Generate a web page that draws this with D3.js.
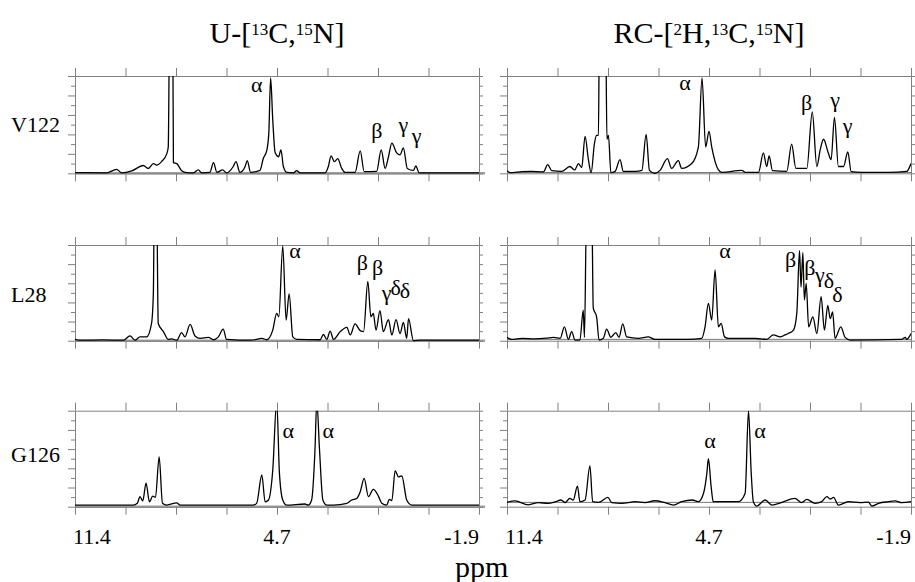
<!DOCTYPE html>
<html>
<head>
<meta charset="utf-8">
<title>Spectra</title>
<script src="https://d3js.org/d3.v7.min.js"></script>
<style>
  body { margin:0; background:#fff; }
  text { font-family:"Liberation Serif","Times New Roman",serif; fill:#000; }
  .axis path, .axis line { stroke:#808080; stroke-width:1; }
  .spec { fill:none; stroke:#000; stroke-width:1.3; }
</style>
</head>
<body>
<script>
// column titles and row names
var titles = [
  [["U-[", ""], ["13", "sup"], ["C,", ""], ["15", "sup"], ["N]", ""]],
  [["RC-[", ""], ["2", "sup"], ["H,", ""], ["13", "sup"], ["C,", ""], ["15", "sup"], ["N]", ""]]
];
var residues = ["V122", "L28", "G126"];
var xTickLabels = ["11.4", "4.7", "-1.9"];
var ppmDomain = [11.4, -1.9];

// spectra: [ppm, intensity] (0..10 = panel height)
var v122U = [[11.4,0.07],[10.36,0.05],[10.03,0.4],[9.86,0.05],[9.53,0.25],[9.15,0.8],[8.99,0.5],[8.82,1.0],[8.71,0.85],[8.55,1.2],[8.38,2.0],[8.33,2.7],[8.29,14],[8.24,16],[8.18,14],[8.16,1.1],[8.05,1.0],[7.89,0.27],[7.72,0.07],[7.5,0.05],[7.34,0.35],[7.23,0.05],[6.96,0.1],[6.84,1.1],[6.73,0.1],[6.54,0.35],[6.41,0.05],[6.19,0.7],[6.10,1.2],[5.97,0.1],[5.80,0.7],[5.73,1.3],[5.62,0.1],[5.31,0.3],[5.20,1.55],[5.09,2.3],[5.02,4.1],[4.96,9.8],[4.89,5.5],[4.81,2.1],[4.70,1.7],[4.62,2.4],[4.54,0.7],[4.43,0.1],[4.21,0.05],[4.10,0.27],[3.99,0.05],[3.17,0.05],[3.06,0.7],[2.97,1.8],[2.86,1.2],[2.75,1.5],[2.62,0.5],[2.51,0.1],[2.18,0.1],[2.01,2.3],[1.88,0.17],[1.47,0.2],[1.32,2.4],[1.19,0.5],[1.08,1.7],[0.97,3.1],[0.81,2.1],[0.70,1.9],[0.59,2.6],[0.46,0.5],[0.26,0.3],[0.18,0.75],[0.07,0.05],[-0.40,0.05],[-1.9,0.05]];
var v122RC = [[11.4,0.27],[11.3,0.07],[10.9,0.17],[10.6,0.2],[10.2,0.15],[10.06,0.9],[9.93,0.27],[9.6,0.2],[9.33,0.7],[9.17,0.35],[9.05,1.0],[8.94,0.6],[8.83,3.8],[8.72,1.4],[8.63,0.07],[8.52,3.1],[8.45,3.9],[8.39,3.9],[8.36,14],[8.25,12],[8.15,14],[8.11,3.5],[8.06,3.9],[7.98,0.07],[7.84,0.2],[7.68,1.4],[7.57,0.2],[7.18,0.2],[6.96,0.3],[6.82,4.0],[6.71,0.3],[6.53,0.0],[6.36,0.3],[6.12,1.5],[5.98,0.5],[5.76,1.3],[5.65,0.5],[5.32,1.0],[5.10,2.7],[4.98,9.8],[4.86,2.7],[4.75,4.3],[4.66,2.7],[4.44,0.35],[4.33,0.1],[3.67,0.3],[3.56,0.1],[3.12,0.1],[2.96,2.1],[2.85,0.7],[2.77,1.8],[2.66,0.27],[2.19,0.2],[2.03,3.0],[1.89,0.5],[1.53,0.5],[1.35,6.3],[1.20,0.7],[1.09,2.4],[0.98,3.5],[0.82,2.05],[0.73,1.4],[0.62,5.75],[0.49,0.7],[0.32,0.7],[0.18,2.2],[0.07,0.17],[-0.28,0.1],[-1.16,0.1],[-1.76,0.2],[-1.9,1.0]];
var l28U = [[11.4,0.14],[11.2,0.05],[10.5,0.08],[9.8,0.05],[9.59,0.5],[9.42,0.05],[9.26,0.4],[9.04,0.4],[8.88,1.8],[8.82,5.0],[8.79,14],[8.71,14],[8.66,1.8],[8.49,0.95],[8.33,0.14],[8.22,0.2],[8.05,0.05],[7.89,0.85],[7.78,0.4],[7.61,1.7],[7.45,0.5],[7.28,0.25],[7.01,0.35],[6.84,0.1],[6.68,0.4],[6.52,1.2],[6.41,0.14],[5.6,0.05],[5.25,0.25],[5.09,0.1],[4.89,1.1],[4.76,2.85],[4.69,2.5],[4.56,9.9],[4.45,2.15],[4.35,4.9],[4.23,0.4],[4.10,0.14],[3.33,0.1],[3.22,0.65],[3.11,0.14],[3.0,1.0],[2.89,0.14],[2.67,0.95],[2.45,1.4],[2.34,0.6],[2.18,1.75],[2.01,1.05],[1.90,0.95],[1.76,6.2],[1.66,2.5],[1.58,2.85],[1.49,1.1],[1.36,3.15],[1.25,0.95],[1.08,2.2],[0.97,0.6],[0.83,2.2],[0.70,0.75],[0.59,1.9],[0.48,0.25],[0.42,2.3],[0.26,0.0],[0.04,0.05],[-1.9,0.05]];
var l28RC = [[11.4,0.35],[11.25,0.14],[10.9,0.25],[10.5,0.2],[10.1,0.27],[9.87,0.35],[9.65,0.25],[9.51,1.45],[9.38,0.14],[9.27,0.95],[9.16,0.07],[9.0,0.07],[8.89,3.2],[8.85,0.35],[8.78,14],[8.67,14],[8.61,14],[8.56,3.4],[8.45,2.5],[8.37,0.07],[8.23,0.25],[8.12,1.2],[7.98,0.35],[7.82,0.85],[7.71,0.35],[7.59,1.75],[7.46,0.4],[7.07,0.25],[6.75,0.4],[6.53,0.14],[5.43,0.14],[4.99,0.25],[4.88,1.45],[4.77,3.9],[4.66,2.15],[4.55,7.4],[4.44,1.45],[4.35,1.8],[4.24,0.4],[4.11,0.25],[3.23,0.25],[2.85,0.14],[2.63,0.6],[2.41,0.4],[2.25,0.6],[2.14,0.75],[1.97,1.1],[1.86,2.85],[1.77,9.4],[1.72,5.6],[1.66,9.2],[1.61,4.25],[1.55,6.0],[1.47,1.45],[1.33,2.5],[1.20,0.75],[1.06,4.6],[0.95,1.1],[0.84,3.7],[0.76,2.3],[0.68,3.0],[0.60,0.25],[0.41,1.45],[0.27,0.35],[0.10,0.07],[-1.6,0.14],[-1.71,0.35],[-1.76,0.14],[-1.9,0.75]];
var g126U = [[11.4,0.17],[9.48,0.17],[9.35,0.35],[9.26,1.05],[9.17,0.6],[9.06,2.45],[8.95,0.5],[8.84,1.1],[8.75,0.97],[8.63,5.2],[8.52,0.35],[8.38,0.17],[8.05,0.4],[7.94,0.17],[5.53,0.17],[5.42,0.35],[5.25,3.3],[5.14,0.5],[5.03,0.7],[4.89,3.8],[4.76,11],[4.67,3.5],[4.56,0.7],[4.43,0.17],[3.83,0.28],[3.72,0.17],[3.61,0.7],[3.50,5.9],[3.44,11],[3.35,5.9],[3.24,0.7],[3.11,0.17],[2.89,0.17],[2.45,0.35],[2.29,0.7],[2.12,0.87],[2.01,1.55],[1.88,2.95],[1.74,1.05],[1.58,1.8],[1.41,1.1],[1.30,0.35],[1.14,0.17],[1.05,0.76],[0.97,0.62],[0.86,3.75],[0.75,3.1],[0.64,3.2],[0.48,0.7],[0.31,0.17],[-1.9,0.17]];
var g126RC = [[11.4,0.45],[11.14,0.6],[10.70,0.2],[10.37,0.42],[10.04,0.35],[9.82,0.5],[9.62,0.7],[9.49,0.42],[9.33,0.87],[9.22,0.7],[9.08,2.15],[9.0,0.52],[8.83,0.7],[8.67,4.25],[8.58,0.52],[8.39,0.45],[8.08,0.97],[7.95,0.42],[7.62,0.35],[7.18,0.52],[6.86,0.42],[6.53,0.62],[6.2,0.42],[5.92,0.17],[5.65,0.52],[5.30,0.7],[5.10,0.52],[4.93,1.4],[4.82,3.5],[4.77,5.0],[4.68,2.1],[4.61,0.52],[4.33,0.52],[3.78,0.52],[3.56,1.4],[3.45,10],[3.36,3.5],[3.29,0.52],[3.18,0.07],[2.90,0.7],[2.68,0.17],[2.35,0.45],[1.92,0.87],[1.70,0.42],[1.53,0.76],[1.26,0.35],[1.04,0.52],[0.87,1.05],[0.76,0.8],[0.65,0.97],[0.49,0.17],[0.32,0.35],[0.16,0.52],[-0.22,0.42],[-0.50,0.48],[-0.61,0.07],[-0.83,0.35],[-1.16,0.52],[-1.38,0.6],[-1.60,0.42],[-1.9,0.52]];
var spectra = [[v122U, v122RC], [l28U, l28RC], [g126U, g126RC]];
var rcBaseline = [0.08, 0.14, 0.45];

// peak assignments: [letter, ppm, baseline intensity]
var v122ULabels = [["α",5.42,8.39],["β",1.46,3.60],["γ",0.59,4.28],["γ",0.15,3.08]];
var v122RCLabels = [["α",5.54,8.56],["β",1.54,6.51],["γ",0.60,6.85],["γ",0.19,4.11]];
var l28ULabels = [["α",4.16,8.61],["β",1.94,7.39],["β",1.44,6.87],["γ",1.14,4.25],["δ",0.84,4.78],["δ",0.54,4.43]];
var l28RCLabels = [["α",4.22,8.61],["β",2.06,7.73],["β",1.43,6.87],["γ",1.10,6.17],["δ",0.80,5.48],["δ",0.52,4.08]];
var g126ULabels = [["α",4.38,7.13],["α",3.06,7.13]];
var g126RCLabels = [["α",4.72,6.08],["α",3.07,7.13]];
var labels = [[v122ULabels, v122RCLabels], [l28ULabels, l28RCLabels], [g126ULabels, g126RCLabels]];

// layout
var colX = [[75, 479], [507, 911]];
var rowY = [[76, 173.3], [245, 340.7], [410.7, 506.7]];
var rowLabelY = [131.7, 301.7, 461.7];

var svg = d3.select("body").append("svg")
    .attr("width", 915).attr("height", 582);

titles.forEach(function(parts, c) {
  var t = svg.append("text")
      .attr("x", (colX[c][0] + colX[c][1]) / 2)
      .attr("y", 43.3)
      .attr("text-anchor", "middle")
      .style("font-size", "30px");
  parts.forEach(function(p, i) {
    var prevSup = i > 0 && parts[i-1][1] == "sup";
    var ts = t.append("tspan").text(p[0]);
    if (p[1] == "sup") ts.style("font-size", "17px").attr("dy", -8.5);
    else if (prevSup) ts.attr("dy", 8.5);
  });
});

residues.forEach(function(name, r) {
  svg.append("text").attr("x", 11).attr("y", rowLabelY[r])
      .style("font-size", "22px").text(name);

  colX.forEach(function(cx, c) {
    var x = d3.scaleLinear().domain(ppmDomain).range(cx);
    var y = d3.scaleLinear().domain([0, 10]).range([rowY[r][1], rowY[r][0]]);
    var g = svg.append("g");
    var xt = d3.range(9).map(function(i) { return x.invert(cx[0] + i * (cx[1] - cx[0]) / 8); });

    var clipId = "clip" + r + c;
    g.append("clipPath").attr("id", clipId).append("rect")
        .attr("x", cx[0]).attr("y", rowY[r][0])
        .attr("width", cx[1] - cx[0]).attr("height", rowY[r][1] - rowY[r][0] + 2);

    // baseline
    if (c == 0) {
      g.append("line").attr("x1", x(11.4)).attr("x2", x(-2.1))
          .attr("y1", y(0)).attr("y2", y(0))
          .attr("stroke", "#a0a0a0").attr("stroke-width", 2.5);
    } else {
      g.append("line").attr("x1", x(11.4)).attr("x2", x(-1.9))
          .attr("y1", y(rcBaseline[r])).attr("y2", y(rcBaseline[r]))
          .attr("stroke", "#555").attr("stroke-width", 0.8);
    }

    g.append("g").attr("class", "axis").attr("transform", "translate(0," + rowY[r][0] + ")")
        .call(d3.axisTop(x).tickValues(xt).tickSize(8).tickSizeOuter(0).tickFormat(""));
    g.append("g").attr("class", "axis").attr("transform", "translate(0," + rowY[r][1] + ")")
        .call(d3.axisBottom(x).tickValues(xt).tickSize(8).tickSizeOuter(0).tickFormat(""));
    g.append("g").attr("class", "axis").attr("transform", "translate(" + cx[0] + ",0)")
        .call(d3.axisLeft(y).tickValues([0, 2, 4, 6, 8, 10]).tickSize(7).tickSizeOuter(0).tickFormat(""));
    g.append("g").attr("class", "axis").attr("transform", "translate(" + cx[0] + ",0)")
        .call(d3.axisLeft(y).tickValues([1, 3, 5, 7, 9]).tickSize(4).tickSizeOuter(0).tickFormat(""));
    g.append("g").attr("class", "axis").attr("transform", "translate(" + cx[1] + ",0)")
        .call(d3.axisRight(y).tickValues(d3.range(11)).tickSize(4).tickSizeOuter(0).tickFormat(""));
    g.selectAll(".axis .domain").attr("stroke", "#808080");

    var line = d3.line()
        .x(function(d) { return x(d[0]); })
        .y(function(d) { return y(d[1]); })
        .curve(d3.curveMonotoneX);
    g.append("path").datum(spectra[r][c]).attr("class", "spec")
        .attr("clip-path", "url(#" + clipId + ")")
        .attr("d", line);

    g.selectAll("text.lab").data(labels[r][c]).enter().append("text")
        .attr("class", "lab")
        .attr("x", function(d) { return x(d[1]); })
        .attr("y", function(d) { return y(d[2]); })
        .attr("text-anchor", "middle")
        .style("font-size", "22px")
        .text(function(d) { return d[0]; });

    if (r == residues.length - 1) {
      var anchors = ["start", "middle", "end"];
      xTickLabels.forEach(function(t, i) {
        svg.append("text")
            .attr("x", i == 0 ? cx[0] - 2 : i == 1 ? (cx[0] + cx[1]) / 2 : cx[1])
            .attr("y", 544)
            .attr("text-anchor", anchors[i])
            .style("font-size", "22px")
            .text(t);
      });
    }
  });
});

svg.append("text").attr("x", 481.7).attr("y", 577)
    .attr("text-anchor", "middle").style("font-size", "30px").text("ppm");
</script>
</body>
</html>
